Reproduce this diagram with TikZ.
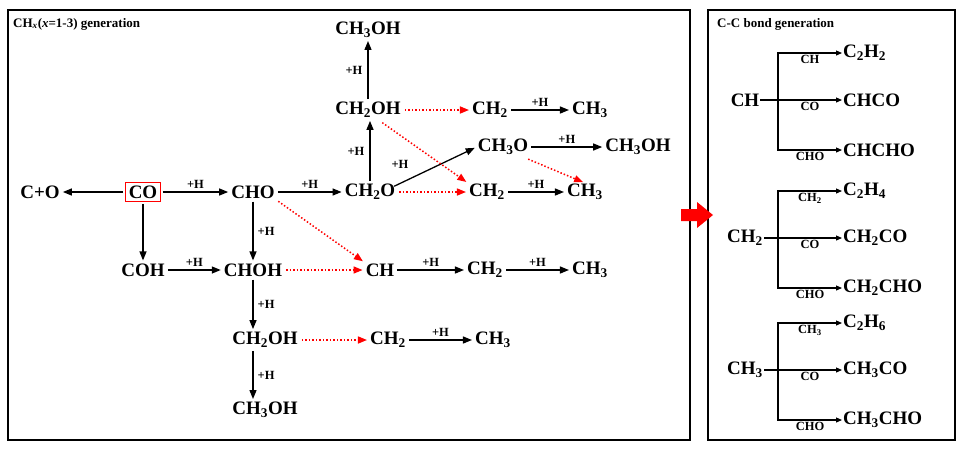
\documentclass[tikz,border=0pt]{standalone}
\usepackage{fontspec}
\setmainfont{Liberation Serif}
\usetikzlibrary{arrows.meta}
\newcommand\sbx[1]{\textsubscript{#1}}
\begin{document}
\begin{tikzpicture}[x=1pt,y=-1pt,
 every node/.style={font=\bfseries\fontsize{19}{20}\selectfont, inner sep=1pt},
 lab/.style={font=\bfseries\fontsize{12.5}{13}\selectfont, inner sep=1pt},
 blk/.style={-{Triangle[length=9pt,width=7pt]}, line width=1.3pt, shorten >=2pt, shorten <=2pt},
 rd/.style={-{Triangle[length=9pt,width=7pt]}, red, dotted, line width=1.5pt, shorten >=2pt, shorten <=3pt},
 br/.style={-{Triangle[length=6pt,width=5pt]}, line width=1.1pt}]
\useasboundingbox (0,0) rectangle (965,456);
\draw[line width=1.2pt] (8,10) rectangle (690,440);
\draw[line width=1.2pt] (708,10) rectangle (955,440);
\node[lab,anchor=west,font=\bfseries\fontsize{13}{14}\selectfont] at (12,24) {CH\sbx{\textit{x}}(\textit{x}=1-3) generation};
\node[lab,anchor=west,font=\bfseries\fontsize{13}{14}\selectfont] at (716,24) {C-C bond generation};
\fill[red] (681,209) -- (697,209) -- (697,202) -- (713,215) -- (697,228) -- (697,221) -- (681,221) -- cycle;
% left nodes
\node (CpO) at (40,192) {C+O};
\node[draw=red,line width=1.2pt,inner sep=3pt] (CO) at (143,192) {CO};
\node (CHO) at (253,192) {CHO};
\node (CH2O) at (370,192) {CH\sbx{2}O};
\node (CH2OHa) at (368,110) {CH\sbx{2}OH};
\node (CH3OHa) at (368,30) {CH\sbx{3}OH};
\node (CH2a) at (490,110) {CH\sbx{2}};
\node (CH3a) at (590,110) {CH\sbx{3}};
\node (CH3O) at (503,147) {CH\sbx{3}O};
\node (CH3OHb) at (638,147) {CH\sbx{3}OH};
\node (CH2b) at (487,192) {CH\sbx{2}};
\node (CH3b) at (585,192) {CH\sbx{3}};
\node (COH) at (143,270) {COH};
\node (CHOH) at (253,270) {CHOH};
\node (CH) at (380,270) {CH};
\node (CH2c) at (485,270) {CH\sbx{2}};
\node (CH3c) at (590,270) {CH\sbx{3}};
\node (CH2OHb) at (265,340) {CH\sbx{2}OH};
\node (CH2d) at (388,340) {CH\sbx{2}};
\node (CH3d) at (493,340) {CH\sbx{3}};
\node (CH3OHc) at (265,410) {CH\sbx{3}OH};
% black arrows
\draw[blk] (CO) -- (CpO);
\draw[blk] (CO) -- node[lab,above=2pt]{+H} (CHO);
\draw[blk] (CHO) -- node[lab,above=2pt]{+H} (CH2O);
\draw[blk] (CH2O.north) coordinate (v1) (v1) -- node[lab,left=4pt]{+H} (v1 |- CH2OHa.south);
\draw[blk] (CH2OHa) -- node[lab,left=4pt]{+H} (CH3OHa);
\draw[blk] (CH2a) -- node[lab,above=2pt]{+H} (CH3a);
\draw[blk] (CH2O.north east) ++(-4,4) coordinate (d0) (d0) -- (CH3O.west);
\node[lab] at (400,164) {+H};
\draw[blk] (CH3O) -- node[lab,above=2pt]{+H} (CH3OHb);
\draw[blk] (CH2b) -- node[lab,above=2pt]{+H} (CH3b);
\draw[blk] (CO) -- (COH);
\draw[blk] (CHO) -- node[lab,right=3pt]{+H} (CHOH);
\draw[blk] (COH) -- node[lab,above=2pt]{+H} (CHOH);
\draw[blk] (CH) -- node[lab,above=2pt]{+H} (CH2c);
\draw[blk] (CH2c) -- node[lab,above=2pt]{+H} (CH3c);
\draw[blk] (CHOH.south) -- node[lab,right=3pt]{+H} (CHOH.south |- CH2OHb.north);
\draw[blk] (CH2d) -- node[lab,above=2pt]{+H} (CH3d);
\draw[blk] (CHOH.south |- CH2OHb.south) -- node[lab,right=3pt]{+H} (CHOH.south |- CH3OHc.north);
% red dotted
\draw[rd] (CH2OHa) -- (CH2a);
\draw[rd] (CH2OHa.south east) ++(-22,2) coordinate (r1) (r1) -- (CH2b.north west);
\draw[rd] (CH3O.south east) ++(-4,2) coordinate (r2) (r2) -- (CH3b.north);
\draw[rd] (CH2O) -- (CH2b);
\draw[rd] (CHO.south east) -- (CH.north west);
\draw[rd] (CHOH) -- (CH);
\draw[rd] (CH2OHb) -- (CH2d);
% right panel
\foreach \s/\y/\sub/\a/\b/\c/\la in {1/100/{}/C\sbx{2}H\sbx{2}/CHCO/CHCHO/CH, 2/238/\sbx{2}/C\sbx{2}H\sbx{4}/CH\sbx{2}CO/CH\sbx{2}CHO/CH\sbx{2}, 3/370/\sbx{3}/C\sbx{2}H\sbx{6}/CH\sbx{3}CO/CH\sbx{3}CHO/CH\sbx{3}}{
 \node (R\s) at (745,\y) {CH\sub};
 \coordinate (J\s) at (778,\y);
 \node[anchor=west] (P\s a) at (842,\y-47) {\a};
 \node[anchor=west] (P\s b) at (842,\y) {\b};
 \node[anchor=west] (P\s c) at (842,\y+50) {\c};
 \draw[line width=1.1pt] (R\s.east) -- (J\s);
 \draw[br] (J\s) -- node[lab,below=1pt]{CO} (P\s b.west);
 \draw[br] (J\s) |- node[lab,pos=0.75,below=1pt]{\la} (P\s a.west);
 \draw[br] (J\s) |- node[lab,pos=0.75,below=1pt]{CHO} (P\s c.west);
}
\end{tikzpicture}
\end{document}
